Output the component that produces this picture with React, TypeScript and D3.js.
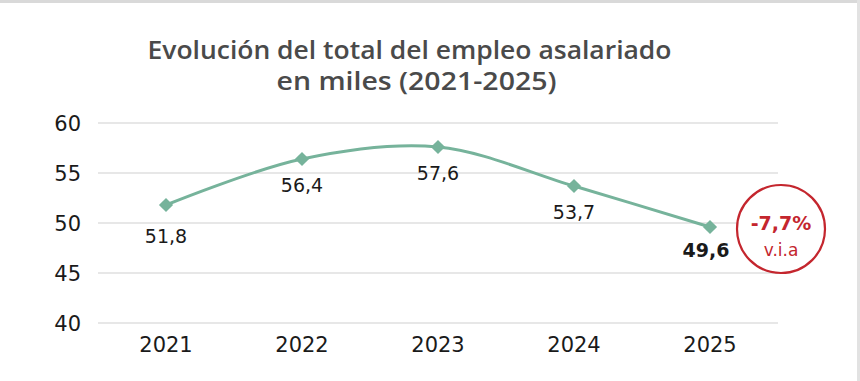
import React from "react";
import * as d3 from "d3";

const years = ["2021", "2022", "2023", "2024", "2025"];
const values = [51.8, 56.4, 57.6, 53.7, 49.6];
const valueLabels = ["51,8", "56,4", "57,6", "53,7", "49,6"];
const yTicks = [40, 45, 50, 55, 60];
const titleLines = ["Evolución del total del empleo asalariado", "en miles (2021-2025)"];
const changeLabel = "-7,7%";
const changeSub = "v.i.a";

const W = 860;
const H = 381;
const GREEN = "#76b39b";
const RED = "#c4262e";

export default function App() {
  const x = d3.scalePoint<string>().domain(years).range([98, 778]).padding(0.5);
  const y = d3.scaleLinear().domain([40, 60]).range([323, 123]);
  const pts: [number, number][] = years.map((yr, i) => [x(yr)!, y(values[i])]);
  const line = d3.line().curve(d3.curveCatmullRom.alpha(0.5))(pts) || "";
  const diamond = d3.symbol().type(d3.symbolSquare).size(100)() || "";
  const last = pts[pts.length - 1];
  const cx = last[0] + 71;
  const cy = last[1] + 2;

  return (
    <svg width={W} height={H} style={{ position: "absolute", left: 0, top: 0, background: "#fff" }}
      fontFamily="'DejaVu Sans', Verdana, sans-serif">
      <rect x={0} y={0} width={W} height={3} fill="#d9d9d9" />
      <rect x={857} y={0} width={3} height={H} fill="#e2e2e2" />
      <text x={409.5} y={59} textAnchor="middle" fontFamily="'Open Sans', sans-serif" fontWeight={600}
        fontSize={25} fill="#4a4a4a" textLength={524} lengthAdjust="spacingAndGlyphs">{titleLines[0]}</text>
      <text x={416.5} y={90} textAnchor="middle" fontFamily="'Open Sans', sans-serif" fontWeight={600}
        fontSize={25} fill="#4a4a4a" textLength={280} lengthAdjust="spacingAndGlyphs">{titleLines[1]}</text>
      {yTicks.map((t) => (
        <g key={t}>
          <line x1={98} x2={778} y1={y(t)} y2={y(t)} stroke="#d0d0d0" strokeWidth={1.2} />
          <text x={81} y={y(t) + 7.5} textAnchor="end" fontSize={21} fill="#1a1a1a">{t}</text>
        </g>
      ))}
      {years.map((yr) => (
        <text key={yr} x={x(yr)!} y={352} textAnchor="middle" fontSize={21} fill="#1a1a1a">{yr}</text>
      ))}
      <path d={line} fill="none" stroke={GREEN} strokeWidth={3} />
      {pts.map((p, i) => (
        <path key={i} d={diamond} transform={`translate(${p[0]},${p[1]}) rotate(45)`} fill={GREEN} />
      ))}
      {pts.map((p, i) => {
        const isLast = i === pts.length - 1;
        return (
          <text key={"l" + i} x={p[0] + (isLast ? -4 : 0)} y={p[1] + (i === 0 ? 38 : isLast ? 30 : 33)}
            textAnchor="middle" fontSize={19} fontWeight={isLast ? 700 : 400} fill="#1a1a1a">
            {valueLabels[i]}
          </text>
        );
      })}
      <circle cx={cx} cy={cy} r={44} fill="#fff" stroke={RED} strokeWidth={2.2} />
      <text x={cx} y={cy + 1} textAnchor="middle" fontSize={19} fontWeight={700} fill={RED}>{changeLabel}</text>
      <text x={cx} y={cy + 27} textAnchor="middle" fontSize={17} fill={RED}>{changeSub}</text>
    </svg>
  );
}
